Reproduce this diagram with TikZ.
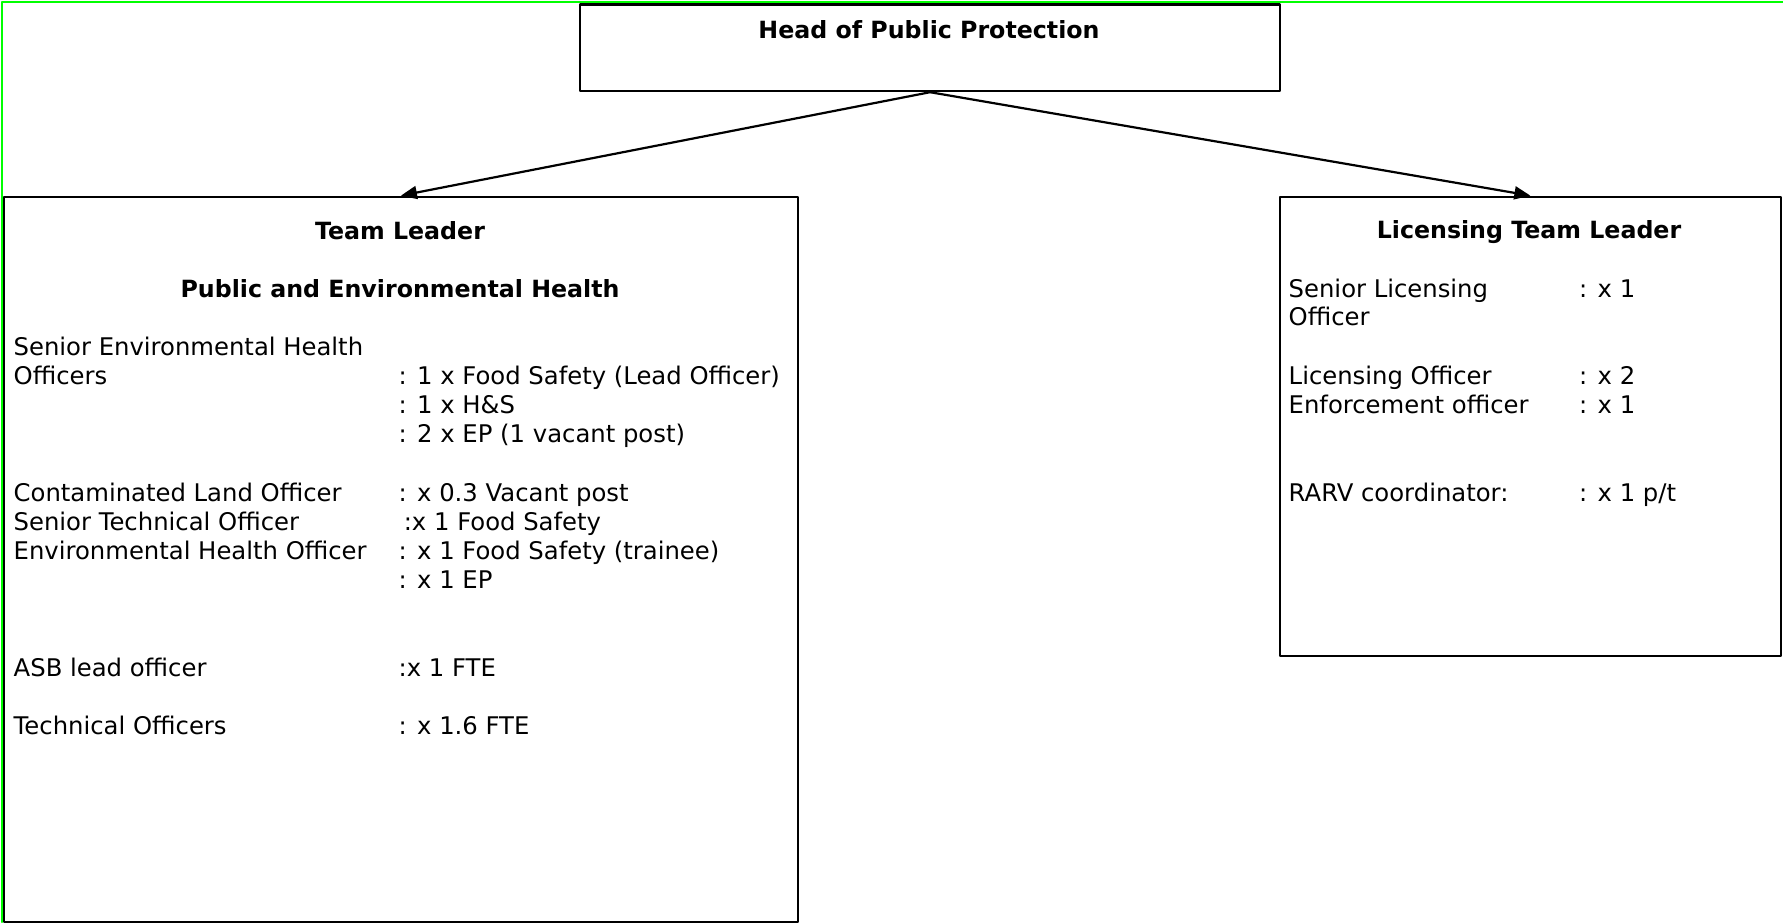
\documentclass[tikz,border=0pt]{standalone}
\usepackage{fontspec}
\setmainfont{DejaVu Sans}
\usetikzlibrary{arrows.meta}
\providecommand{\orgLineColor}{black}
\providecommand{\orgFrameColor}{green}
\providecommand{\orgLineWidth}{2.2pt}
\tikzset{
  orgbox/.style={draw=\orgLineColor, line width=\orgLineWidth, inner sep=0pt, anchor=north west},
  orgtitle/.style={anchor=base, inner sep=0pt, font=\fontsize{23.7}{29}\selectfont\bfseries},
  orgtext/.style={anchor=base west, inner sep=0pt, font=\fontsize{24.3}{29}\selectfont},
  orgarrow/.style={draw=\orgLineColor, line width=\orgLineWidth, -{Triangle[length=16pt,width=13pt]}}
}
\begin{document}
\begin{tikzpicture}
% pixel grid: 1 unit = 1pt, y grows downwards
\begin{scope}[x=1pt, y=-1pt, line cap=round, line join=round]
  \useasboundingbox (0,0) rectangle (1783,922);
  % Outer frame (only top and left edges are visible)
  \draw[\orgFrameColor, line width=2pt] (1.5,922) -- (1.5,1.5) -- (1783,1.5);
  % Boxes
  \node[orgbox, minimum width=700pt, minimum height=86.6pt] (head) at (579,3.4) {};
  \node[orgbox, minimum width=794.3pt, minimum height=725pt] (pehead) at (2.7,195.6) {};
  \node[orgbox, minimum width=501.5pt, minimum height=459pt] (lichead) at (1278.5,195.6) {};
  % Connectors
  \draw[orgarrow] (head.south) -- (pehead.north);
  \draw[orgarrow] (head.south) -- (lichead.north);
  % Head of service
  \node[orgtitle] (headtitle) at (929,38.3) {Head of Public Protection};
  % Public and Environmental Health team
  \node[orgtitle] (petitle) at (400,239.4) {Team Leader};
  \node[orgtitle] (pesub) at (400,297) {Public and Environmental Health};
  \node[orgtext] (sehoa) at (13.5,355.7) {Senior Environmental Health};
  \node[orgtext] (sehob) at (13.5,384.4) {Officers};
  \node[orgtext] (sehoc) at (398.5,384.4) {: 1 x Food Safety (Lead Officer)};
  \node[orgtext] (sehod) at (398.5,413.3) {: 1 x H\&S};
  \node[orgtext] (sehoe) at (398.5,442.3) {: 2 x EP (1 vacant post)};
  \node[orgtext] (clo) at (13.5,501.6) {Contaminated Land Officer};
  \node[orgtext] (clonum) at (398.5,501.6) {: x 0.3 Vacant post};
  \node[orgtext] (sto) at (13.5,530.6) {Senior Technical Officer};
  \node[orgtext] (stonum) at (403.6,530.6) {:x 1 Food Safety};
  \node[orgtext] (eho) at (13.5,559.4) {Environmental Health Officer};
  \node[orgtext] (ehonuma) at (398.5,559.4) {: x 1 Food Safety (trainee)};
  \node[orgtext] (ehonumb) at (398.5,588.2) {: x 1 EP};
  \node[orgtext] (asb) at (13.5,676.6) {ASB lead officer};
  \node[orgtext] (asbnum) at (398.5,676.6) {:x 1 FTE};
  \node[orgtext] (tech) at (13.5,734.3) {Technical Officers};
  \node[orgtext] (technum) at (398.5,734.3) {: x 1.6 FTE};
  % Licensing team
  \node[orgtitle] (lictitle) at (1529,238.3) {Licensing Team Leader};
  \node[orgtext] (sloa) at (1288.5,297.3) {Senior Licensing};
  \node[orgtext] (slob) at (1288.5,325.9) {Officer};
  \node[orgtext] (slonum) at (1579,297.3) {: x 1};
  \node[orgtext] (lo) at (1288.5,384.3) {Licensing Officer};
  \node[orgtext] (lonum) at (1579,384.3) {: x 2};
  \node[orgtext] (eo) at (1288.5,413.3) {Enforcement officer};
  \node[orgtext] (eonum) at (1579,413.3) {: x 1};
  \node[orgtext] (rarv) at (1288.5,501) {RARV coordinator:};
  \node[orgtext] (rarvnum) at (1579,501) {: x 1 p/t};
\end{scope}
\end{tikzpicture}
\end{document}
